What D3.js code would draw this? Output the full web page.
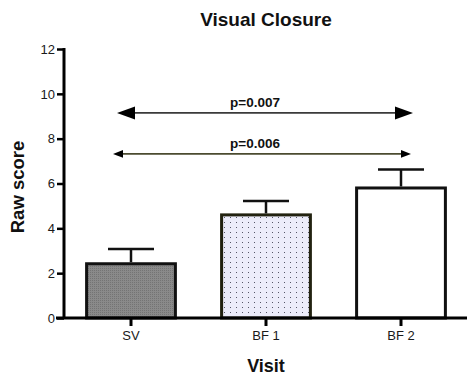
<!DOCTYPE html>
<html>
<head>
<meta charset="utf-8">
<script src="https://cdn.jsdelivr.net/npm/d3@7"></script>
<style>
  body { margin: 0; background: #fff; }
  text { font-family: "Liberation Sans", Arial, sans-serif; }
</style>
</head>
<body>
<div id="chart"></div>
<script>
const categories = ["SV", "BF1", "BF2"];
const tickNames = ["SV", "BF 1", "BF 2"];
const means = [2.42, 4.6, 5.8];
const errors = [0.66, 0.62, 0.82];
const yTicks = [0, 2, 4, 6, 8, 10, 12];
const brackets = [
  { from: "SV", to: "BF2", y: 9.15, label: "p=0.007" },
  { from: "SV", to: "BF2", y: 7.32, label: "p=0.006" }
];

const W = 467, H = 377;
const svg = d3.select("#chart").append("svg")
  .attr("width", W).attr("height", H);

const defs = svg.append("defs");
// grey fine hatch for SV
const p1 = defs.append("pattern").attr("id", "grey").attr("patternUnits", "userSpaceOnUse")
  .attr("width", 2).attr("height", 2);
p1.append("rect").attr("width", 2).attr("height", 2).attr("fill", "#8a8a8a");
p1.append("rect").attr("width", 1).attr("height", 1).attr("fill", "#747474");
// dotted light fill for BF1
const p2 = defs.append("pattern").attr("id", "dots").attr("patternUnits", "userSpaceOnUse")
  .attr("width", 6).attr("height", 5);
p2.append("rect").attr("width", 6).attr("height", 5).attr("fill", "#ececfa");
p2.append("rect").attr("x", 2).attr("y", 2).attr("width", 1).attr("height", 1).attr("fill", "#555566");

const fills = ["url(#grey)", "url(#dots)", "#fff"];
const strokes = ["#111", "#222210", "#111"];

const x = d3.scaleBand().domain(categories).range([63.5, 468.5])
  .paddingInner(0.32).paddingOuter(0.16);
const y = d3.scaleLinear().domain([0, 12]).range([318, 49]);

// bars
const bars = categories.map((c, i) => ({ c, m: means[i], e: errors[i], i }));
svg.selectAll(".bar").data(bars).enter().append("rect")
  .attr("x", d => x(d.c) + 1.5)
  .attr("y", d => y(d.m))
  .attr("width", x.bandwidth() - 3)
  .attr("height", d => y(0) - y(d.m))
  .attr("fill", d => fills[d.i])
  .attr("stroke", d => strokes[d.i])
  .attr("stroke-width", 3);

// error bars
const eb = svg.selectAll(".err").data(bars).enter().append("g");
eb.append("line")
  .attr("x1", d => x(d.c) + x.bandwidth() / 2).attr("x2", d => x(d.c) + x.bandwidth() / 2)
  .attr("y1", d => y(d.m) - 1.5).attr("y2", d => y(d.m + d.e))
  .attr("stroke", "#111").attr("stroke-width", 2.5);
eb.append("line")
  .attr("x1", d => x(d.c) + x.bandwidth() / 2 - 23).attr("x2", d => x(d.c) + x.bandwidth() / 2 + 23)
  .attr("y1", d => y(d.m + d.e)).attr("y2", d => y(d.m + d.e))
  .attr("stroke", "#111").attr("stroke-width", 2.5);

// y axis
const yAxis = svg.append("g").attr("transform", "translate(64,0)")
  .call(d3.axisLeft(y).tickValues(yTicks).tickSize(7).tickPadding(2));
yAxis.select(".domain").attr("stroke", "#000").attr("stroke-width", 3)
  .attr("d", `M0,${y(12) - 1}V${y(0)}`);
yAxis.selectAll(".tick line").attr("stroke", "#000").attr("stroke-width", 2.5);
yAxis.selectAll(".tick text").attr("fill", "#1a1a1a").style("font-size", "13px");

// x axis
const xAxis = svg.append("g").attr("transform", `translate(0,${y(0)})`)
  .call(d3.axisBottom(x).tickSize(8).tickPadding(5).tickFormat((d, i) => tickNames[i]));
xAxis.select(".domain").attr("stroke", "#000").attr("stroke-width", 3)
  .attr("d", "M56,0H467");
xAxis.selectAll(".tick line").attr("stroke", "#000").attr("stroke-width", 3);
xAxis.selectAll(".tick text").attr("fill", "#1a1a1a").style("font-size", "13px");

// significance arrows
const heads = [{ len: 18, half: 6.5, color: "#3a3a3a", l: 14, r: 12 },
               { len: 10, half: 3.8, color: "#4b4b30", l: 18, r: 10 }];
brackets.forEach((b, i) => {
  const s = heads[i];
  const x1 = x(b.from) + x.bandwidth() / 2 - s.l;
  const x2 = x(b.to) + x.bandwidth() / 2 + s.r;
  const yy = y(b.y);
  svg.append("line").attr("x1", x1 + 4).attr("x2", x2 - 4).attr("y1", yy).attr("y2", yy)
    .attr("stroke", s.color).attr("stroke-width", 1.6);
  svg.append("path").attr("d", `M${x1},${yy}L${x1 + s.len},${yy - s.half}L${x1 + s.len},${yy + s.half}Z`)
    .attr("fill", "#000");
  svg.append("path").attr("d", `M${x2},${yy}L${x2 - s.len},${yy - s.half}L${x2 - s.len},${yy + s.half}Z`)
    .attr("fill", "#000");
  svg.append("text").attr("x", 255).attr("y", yy - 6).attr("text-anchor", "middle")
    .attr("fill", "#111").style("font-size", "13.5px").style("font-weight", "bold").text(b.label);
});

// titles
svg.append("text").attr("x", 266).attr("y", 26).attr("text-anchor", "middle").attr("fill", "#111")
  .style("font-size", "19px").style("font-weight", "bold").text("Visual Closure");
svg.append("text").attr("x", 266).attr("y", 372).attr("text-anchor", "middle").attr("fill", "#111")
  .style("font-size", "18px").style("font-weight", "bold").text("Visit");
svg.append("text").attr("transform", "translate(24,187) rotate(-90)").attr("text-anchor", "middle")
  .attr("fill", "#111").style("font-size", "18.5px").style("font-weight", "bold").text("Raw score");
</script>
</body>
</html>
